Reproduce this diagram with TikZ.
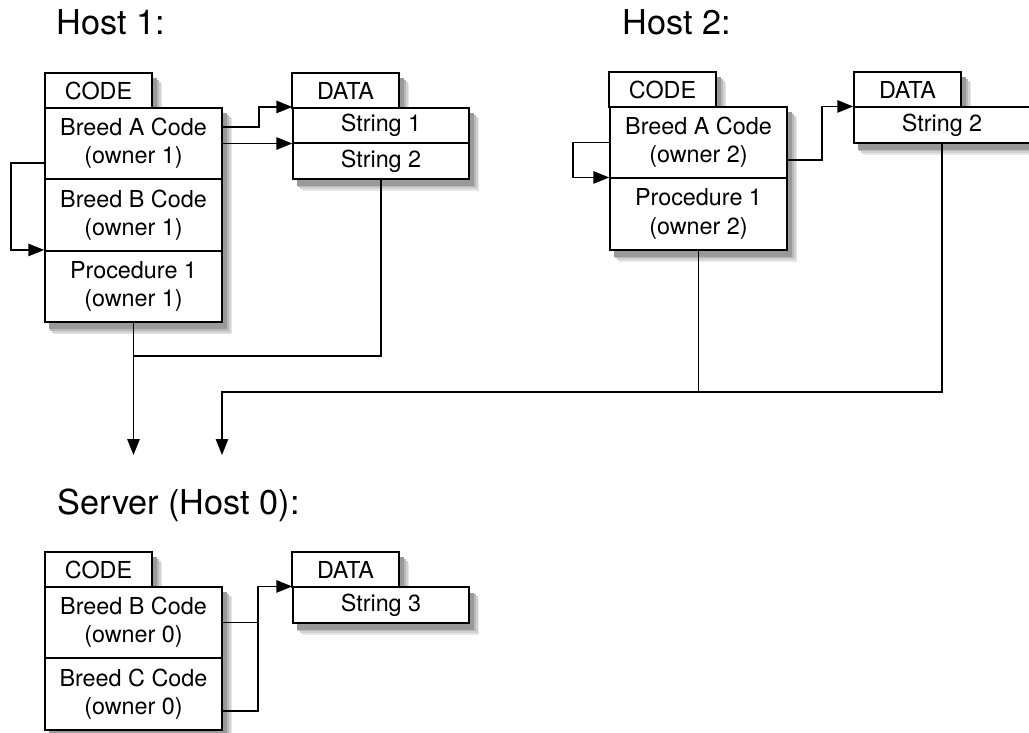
\documentclass[tikz,border=0pt]{standalone}
\usepackage{fontspec}
\setmainfont{TeX Gyre Heros}
\usetikzlibrary{arrows.meta,backgrounds}

\begin{document}
\begin{tikzpicture}[x=0.02cm, y=-0.02cm, >={Triangle[length=9pt,width=7pt]}, line width=0.9pt,
  title/.style={anchor=base west, inner sep=0pt, font=\fontsize{19.5}{23}\selectfont},
  tabbox/.style={draw, rectangle, fill=white, minimum width=2.14cm, minimum height=0.7cm, inner sep=0pt,
    font=\fontsize{13.3}{16}\selectfont},
  codebox/.style={tabbox, minimum width=3.54cm, minimum height=1.43cm, align=center},
  databox/.style={tabbox, minimum width=3.52cm, minimum height=0.71cm}]
\useasboundingbox (0,0) rectangle (1029,733);
\node[title] (t1) at (56,35) {Host 1:};
\node[title] (t2) at (622,35) {Host 2:};
\node[title] (t0) at (57,515) {Server (Host 0):};
% host 1
\node[tabbox] (c1) at (98.5,90.5) {CODE};
\node[codebox] (h1a) at (133.5,143.5) {Breed A Code\\(owner 1)};
\node[codebox] (h1b) at (133.5,215) {Breed B Code\\(owner 1)};
\node[codebox] (h1p) at (133.5,286.5) {Procedure 1\\(owner 1)};
\node[tabbox] (d1) at (345.5,90.5) {DATA};
\node[databox] (h1s1) at (381,125.5) {String 1};
\node[databox] (h1s2) at (381,161) {String 2};
% host 2
\node[tabbox] (c2) at (662.5,89.5) {CODE};
\node[codebox] (h2a) at (698.5,142.5) {Breed A Code\\(owner 2)};
\node[codebox] (h2p) at (698.5,214) {Procedure 1\\(owner 2)};
\node[tabbox] (d2) at (907.5,89.5) {DATA};
\node[databox] (h2s2) at (942,125) {String 2};
% server
\node[tabbox] (c0) at (98.5,569.5) {CODE};
\node[codebox] (s0b) at (133.5,622.5) {Breed B Code\\(owner 0)};
\node[codebox] (s0c) at (133.5,694) {Breed C Code\\(owner 0)};
\node[tabbox] (d0) at (345.5,569.5) {DATA};
\node[databox] (s0s3) at (381,605) {String 3};
% soft shadows behind the boxes
\begin{scope}[on background layer]
\foreach \p/\q in {c1/c1, h1a/h1p, d1/d1, h1s1/h1s2, c2/c2, h2a/h2p, d2/d2, h2s2/h2s2, c0/c0, s0b/s0c, d0/d0, s0s3/s0s3}
  \foreach \s/\t/\c in {5.5/6.5/10, 4.5/5.5/18, 3.5/4.5/28, 2.5/3.5/40}
    \fill[black!\c] ([shift={(\s pt,-\t pt)}]\p.north west) rectangle ([shift={(\s pt,-\t pt)}]\q.south east);
\end{scope}
% links inside host 1
\draw[->] ([yshift=0.33cm]h1a.east) -- ++(36,0) |- (h1s1.north west);
\draw[->] (h1a.east) -- (h1a.east -| h1s1.south west);
\draw[->] ([yshift=-0.39cm]h1a.west) -- ++(-33,0) |- (h1p.north west);
% links inside host 2
\draw[->] ([yshift=-0.35cm]h2a.east) -- ++(34,0) |- (h2s2.north west);
\draw[->] (h2a.west) -- ++(-36,0) |- (h2p.north west);
% links inside server
\draw (s0b.east) -- ++(35,0);
\draw[->] ([yshift=-0.34cm]s0c.east) -- ++(35,0) |- (s0s3.north west);
% transfer to server
\coordinate (m1) at (133.5,356);
\coordinate (a1) at (133.5,455);
\coordinate (m2) at (222,392);
\coordinate (a2) at (222,455);
\draw (h1s2.south) |- (m1);
\draw[->] (h1p.south) -- (a1);
\draw (h2p.south) -- (h2p.south |- m2);
\draw[->] (h2s2.south) |- (m2) -- (a2);
\end{tikzpicture}
\end{document}
